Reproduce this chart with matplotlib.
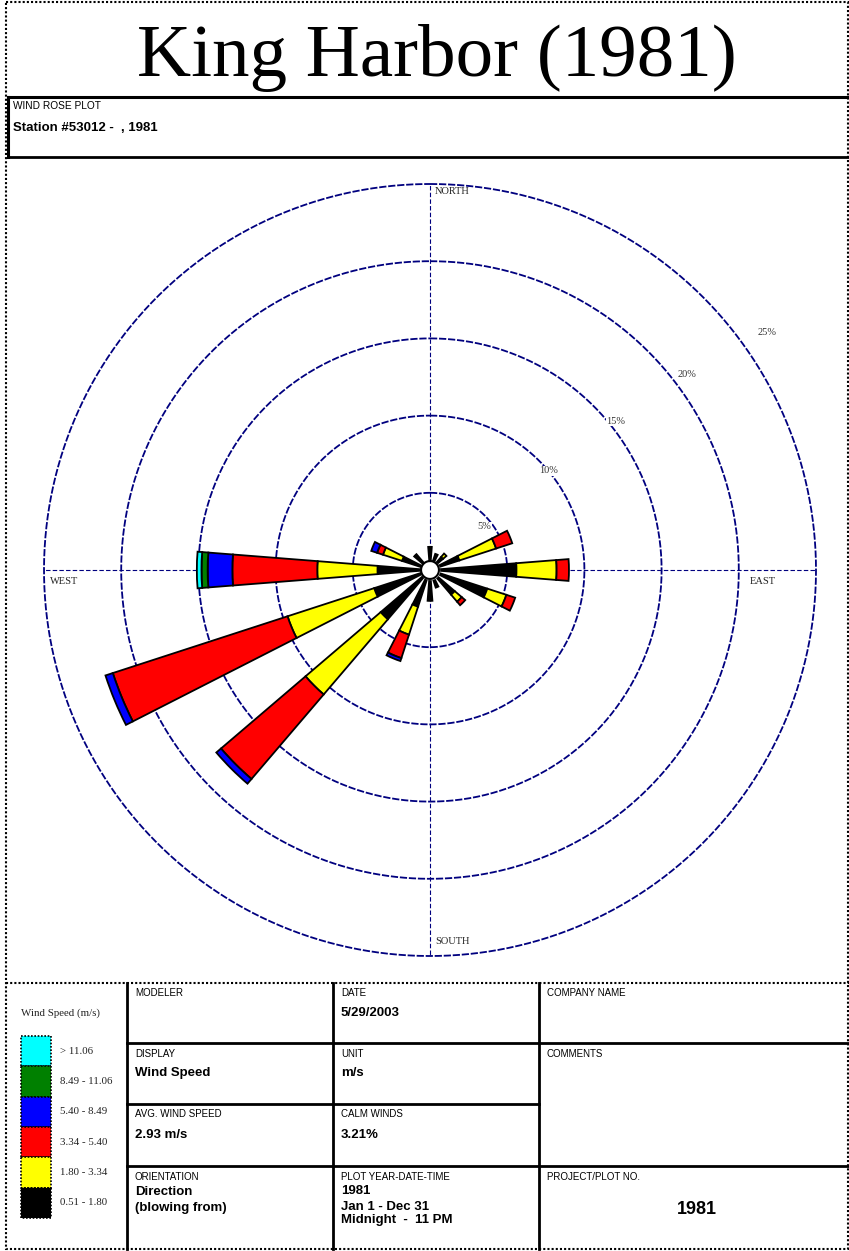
import numpy as np
import matplotlib
matplotlib.use('Agg')
import matplotlib.pyplot as plt
from matplotlib.patches import Rectangle

# wind rose data (percent of hours), 16 directions, blowing from
directions = ['N', 'NNE', 'NE', 'ENE', 'E', 'ESE', 'SE', 'SSE',
              'S', 'SSW', 'SW', 'WSW', 'W', 'WNW', 'NW', 'NNW']
speed_bins = ['0.51 - 1.80', '1.80 - 3.34', '3.34 - 5.40',
              '5.40 - 8.49', '8.49 - 11.06', '> 11.06']
bin_colors = ['black', 'yellow', 'red', 'blue', '#008000', 'cyan']

f_051_180 = [1.5, 1.1, 1.1, 2.0, 5.6, 3.9, 2.1, 1.2, 2.0, 2.5, 4.2, 3.8, 3.4, 1.9, 1.35, 0.0]
f_180_334 = [0.0, 0.0, 0.3, 2.5, 2.6, 1.3, 0.6, 0.0, 0.0, 1.9, 6.4, 5.9, 3.9, 1.3, 0.0, 0.0]
f_334_540 = [0.0, 0.0, 0.0, 1.1, 0.8, 0.6, 0.3, 0.0, 0.0, 1.6, 7.2, 11.9, 5.5, 0.4, 0.0, 0.0]
f_540_849 = [0.0, 0.0, 0.0, 0.0, 0.0, 0.0, 0.0, 0.0, 0.0, 0.2, 0.4, 0.5, 1.6, 0.4, 0.0, 0.0]
f_849_1106 = [0.0, 0.0, 0.0, 0.0, 0.0, 0.0, 0.0, 0.0, 0.0, 0.0, 0.0, 0.0, 0.4, 0.0, 0.0, 0.0]
f_gt_1106 = [0.0, 0.0, 0.0, 0.0, 0.0, 0.0, 0.0, 0.0, 0.0, 0.0, 0.0, 0.0, 0.3, 0.0, 0.0, 0.0]

rings = [5, 10, 15, 20, 25]
ring_labels = ['5%', '10%', '15%', '20%', '25%']

title = 'King Harbor (1981)'
station = 'Station #53012 -  , 1981'
avg_speed = '2.93 m/s'
calm_winds = '3.21%'

SERIF = 'Liberation Serif'
SANS = 'Liberation Sans'
NAVY = '#00007f'

fig = plt.figure(figsize=(8.49, 12.51), dpi=100)

# page frame in pixel coords
frame = fig.add_axes([0, 0, 1, 1])
frame.set_xlim(0, 849)
frame.set_ylim(1251, 0)
frame.axis('off')

dot = (0, (1, 1))
frame.add_patch(Rectangle((6, 2), 842, 1247, fill=False, ec='black', lw=1.5, ls=dot))
frame.plot([8, 849], [97, 97], color='black', lw=2.2)
frame.plot([8, 849], [157, 157], color='black', lw=2)
frame.plot([8, 8], [97, 157], color='black', lw=2.2)
frame.plot([6, 849], [983, 983], color='black', lw=1.5, ls=dot)
for x in [127, 333, 539]:
    frame.plot([x, x], [983, 1249], color='black', lw=2)
frame.plot([127, 849], [1043, 1043], color='black', lw=2)
frame.plot([127, 539], [1104, 1104], color='black', lw=2)
frame.plot([127, 849], [1166, 1166], color='black', lw=2)

frame.text(437, 76, title, ha='center', va='baseline', fontsize=54, family=SERIF)
frame.text(13, 106, 'WIND ROSE PLOT', ha='left', va='center', fontsize=7.3, family=SANS)
frame.text(13, 128, station, ha='left', va='center', fontsize=9.5, family=SANS, fontweight='bold')

# table cells
lab = dict(ha='left', va='center', fontsize=7, family=SANS)
val = dict(ha='left', va='center', fontsize=9.5, family=SANS, fontweight='bold')
frame.text(135, 993, 'MODELER', **lab)
frame.text(341, 993, 'DATE', **lab)
frame.text(341, 1013, '5/29/2003', **val)
frame.text(135, 1054, 'DISPLAY', **lab)
frame.text(135, 1073, 'Wind Speed', **val)
frame.text(341, 1054, 'UNIT', **lab)
frame.text(341, 1073, 'm/s', **val)
frame.text(135, 1114, 'AVG. WIND SPEED', **lab)
frame.text(135, 1135, avg_speed, **val)
frame.text(341, 1114, 'CALM WINDS', **lab)
frame.text(341, 1135, calm_winds, **val)
frame.text(135, 1177, 'ORIENTATION', **lab)
frame.text(135, 1192, 'Direction', **val)
frame.text(135, 1208, '(blowing from)', **val)
frame.text(341, 1177, 'PLOT YEAR-DATE-TIME', **lab)
frame.text(341, 1191, '1981', **val)
frame.text(341, 1206.5, 'Jan 1 - Dec 31', **val)
frame.text(341, 1220.5, 'Midnight  -  11 PM', **val)
frame.text(547, 993, 'COMPANY NAME', **lab)
frame.text(547, 1054, 'COMMENTS', **lab)
frame.text(547, 1177, 'PROJECT/PLOT NO.', **lab)
frame.text(697, 1210, '1981', ha='center', va='center', fontsize=13, family=SANS, fontweight='bold')

# legend
frame.text(21, 1013, 'Wind Speed (m/s)', ha='left', va='center', fontsize=7.8, family=SERIF,
           color='#222222')
sw_top = 1036
sw_h = 30.3
for i, (name, c) in enumerate(zip(speed_bins[::-1], bin_colors[::-1])):
    y0 = sw_top + i * sw_h
    frame.add_patch(Rectangle((21, y0), 30, sw_h, fc=c, ec='black', lw=1.2, ls=dot))
    frame.text(60, y0 + sw_h / 2, name, ha='left', va='center', fontsize=7.8, family=SERIF,
               color='#222222')

# wind rose
R = 386.0
cx, cy = 430.0, 570.0
ax = fig.add_axes([(cx - R) / 849, (1251 - cy - R) / 1251, 2 * R / 849, 2 * R / 1251],
                  projection='polar')
ax.set_theta_zero_location('N')
ax.set_theta_direction(-1)
ax.set_ylim(0, 25)
ax.set_axis_off()
ax.patch.set_alpha(0)

tt = np.linspace(0, 2 * np.pi, 720)
for r in rings:
    ax.plot(tt, np.full_like(tt, r), color=NAVY, lw=1.3, ls=(0, (4, 1.0)), zorder=1,
            clip_on=False)
for a in [0, 90, 180, 270]:
    ax.plot([np.radians(a)] * 2, [0, 25], color=NAVY, lw=0.8, ls=(0, (4, 2)), zorder=1,
            clip_on=False)

theta = np.radians(np.arange(16) * 22.5)
width = np.radians(9)
series = [f_051_180, f_180_334, f_334_540, f_540_849, f_849_1106, f_gt_1106]
bottom = np.zeros(16)
for vals, c in zip(series, bin_colors):
    vals = np.array(vals)
    m = vals > 0
    ax.bar(theta[m], vals[m], width=width, bottom=bottom[m], color=c,
           edgecolor='black', lw=1.3, zorder=3)
    bottom = bottom + vals

# calm circle
ax.fill_between(tt, 0, 0.58, color='white', zorder=4)
ax.plot(tt, np.full_like(tt, 0.58), color='black', lw=1.5, zorder=5)

lab_pos = [(51.5, 4.5), (50.0, 10.0), (51.3, 15.4), (52.8, 20.9), (54.9, 26.7)]
for (ang, rr), t in zip(lab_pos, ring_labels):
    ax.text(np.radians(ang), rr, t, ha='center', va='center', fontsize=7.5, family=SERIF,
            color='#333333', clip_on=False, zorder=2,
            bbox=dict(fc='white', ec='none', pad=0.3))

side = dict(ha='left', va='center', fontsize=7.5, family=SERIF, color='#222222')
frame.text(435, 191, 'NORTH', **side)
frame.text(435, 942, 'SOUTH', **side)
frame.text(50, 581, 'WEST', **side)
frame.text(750, 581, 'EAST', **side)

fig.savefig('out.png', dpi=100)
